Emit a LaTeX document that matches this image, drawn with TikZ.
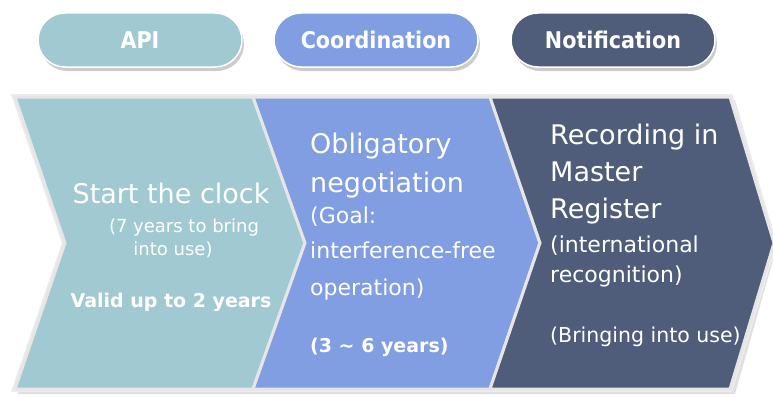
\documentclass[tikz,border=0pt]{standalone}
\usepackage{fontspec}
\setmainfont{DejaVu Sans}
\newfontfamily\tabfont[FakeStretch=0.9]{DejaVu Sans}
\usetikzlibrary{shadows}
\definecolor{apiteal}{RGB}{161,201,210}
\definecolor{coordblue}{RGB}{128,158,225}
\definecolor{notifslate}{RGB}{79,92,122}
\definecolor{edgegray}{RGB}{230,230,230}

\begin{document}
\begin{tikzpicture}[x=1pt, y=-1pt,
  tab/.style={rounded corners=27pt, minimum width=204pt, minimum height=54pt,
              draw=white, line width=1.5pt, text=white,
              font=\tabfont\fontsize{23}{23}\selectfont\bfseries,
              drop shadow={shadow xshift=2pt, shadow yshift=-4pt, fill=black!40, opacity=.5}},
  chev/.style={draw=edgegray, line width=3pt, line join=miter},
  big/.style={anchor=base west, inner sep=0pt, text=white, font=\fontsize{27}{27}\selectfont},
  mid/.style={big, font=\fontsize{22}{22}\selectfont},
  small/.style={big, anchor=base, font=\fontsize{18}{18}\selectfont},
  yrs/.style={big, font=\fontsize{19}{19}\selectfont\bfseries}]
\useasboundingbox (0,0) rectangle (773,396);

% phase tabs
\node[tab, fill=apiteal] (api) at (140,40) {API};
\node[tab, fill=coordblue] (coord) at (376,40) {Coordination};
\node[tab, fill=notifslate] (notif) at (613,40) {Notification};

% halo and shadow behind the arrow band
\fill[black!12] (18,100) -- (735,100) -- (777,246) -- (735,394) -- (18,394) -- (68,246) -- cycle;
\draw[black!7, line width=6pt, line join=miter]
  (15,97) -- (730,97) -- (774,243) -- (730,389) -- (15,389) -- (65,243) -- cycle;

% the three chevrons
\draw[chev, fill=apiteal] (15,97) -- (253,97) -- (305,243) -- (253,389) -- (15,389) -- (65,243) -- cycle;
\draw[chev, fill=coordblue] (253,97) -- (490,97) -- (540,243) -- (490,389) -- (253,389) -- (305,243) -- cycle;
\draw[chev, fill=notifslate] (490,97) -- (730,97) -- (774,243) -- (730,389) -- (490,389) -- (540,243) -- cycle;

% API
\node[big, anchor=base] (clock) at (171,203) {Start the clock};
\node[small] (bring) at (184,232) {(7 years to bring};
\node[small] (use) at (173,255) {into use)};
\node[yrs, anchor=base] (valid) at (171,307) {Valid up to 2 years};

% coordination
\node[big] (oblig) at (310,153) {Obligatory};
\node[big] (nego) at (310,192) {negotiation};
\node[mid] (goal) at (310,223) {(Goal:};
\node[mid] (free) at (310,258) {interference-free};
\node[mid] (oper) at (310,295) {operation)};
\node[yrs] (span) at (310,352) {(3 \textasciitilde{} 6 years)};

% notification
\node[big] (rec) at (550,144) {Recording in};
\node[big] (mast) at (550,181) {Master};
\node[big] (reg) at (550,218) {Register};
\node[mid] (intl) at (550,252) {(international};
\node[mid] (recog) at (550,282) {recognition)};
\node[mid, font=\fontsize{20.5}{20.5}\selectfont] (biu) at (550,342) {(Bringing into use)};
\end{tikzpicture}
\end{document}
